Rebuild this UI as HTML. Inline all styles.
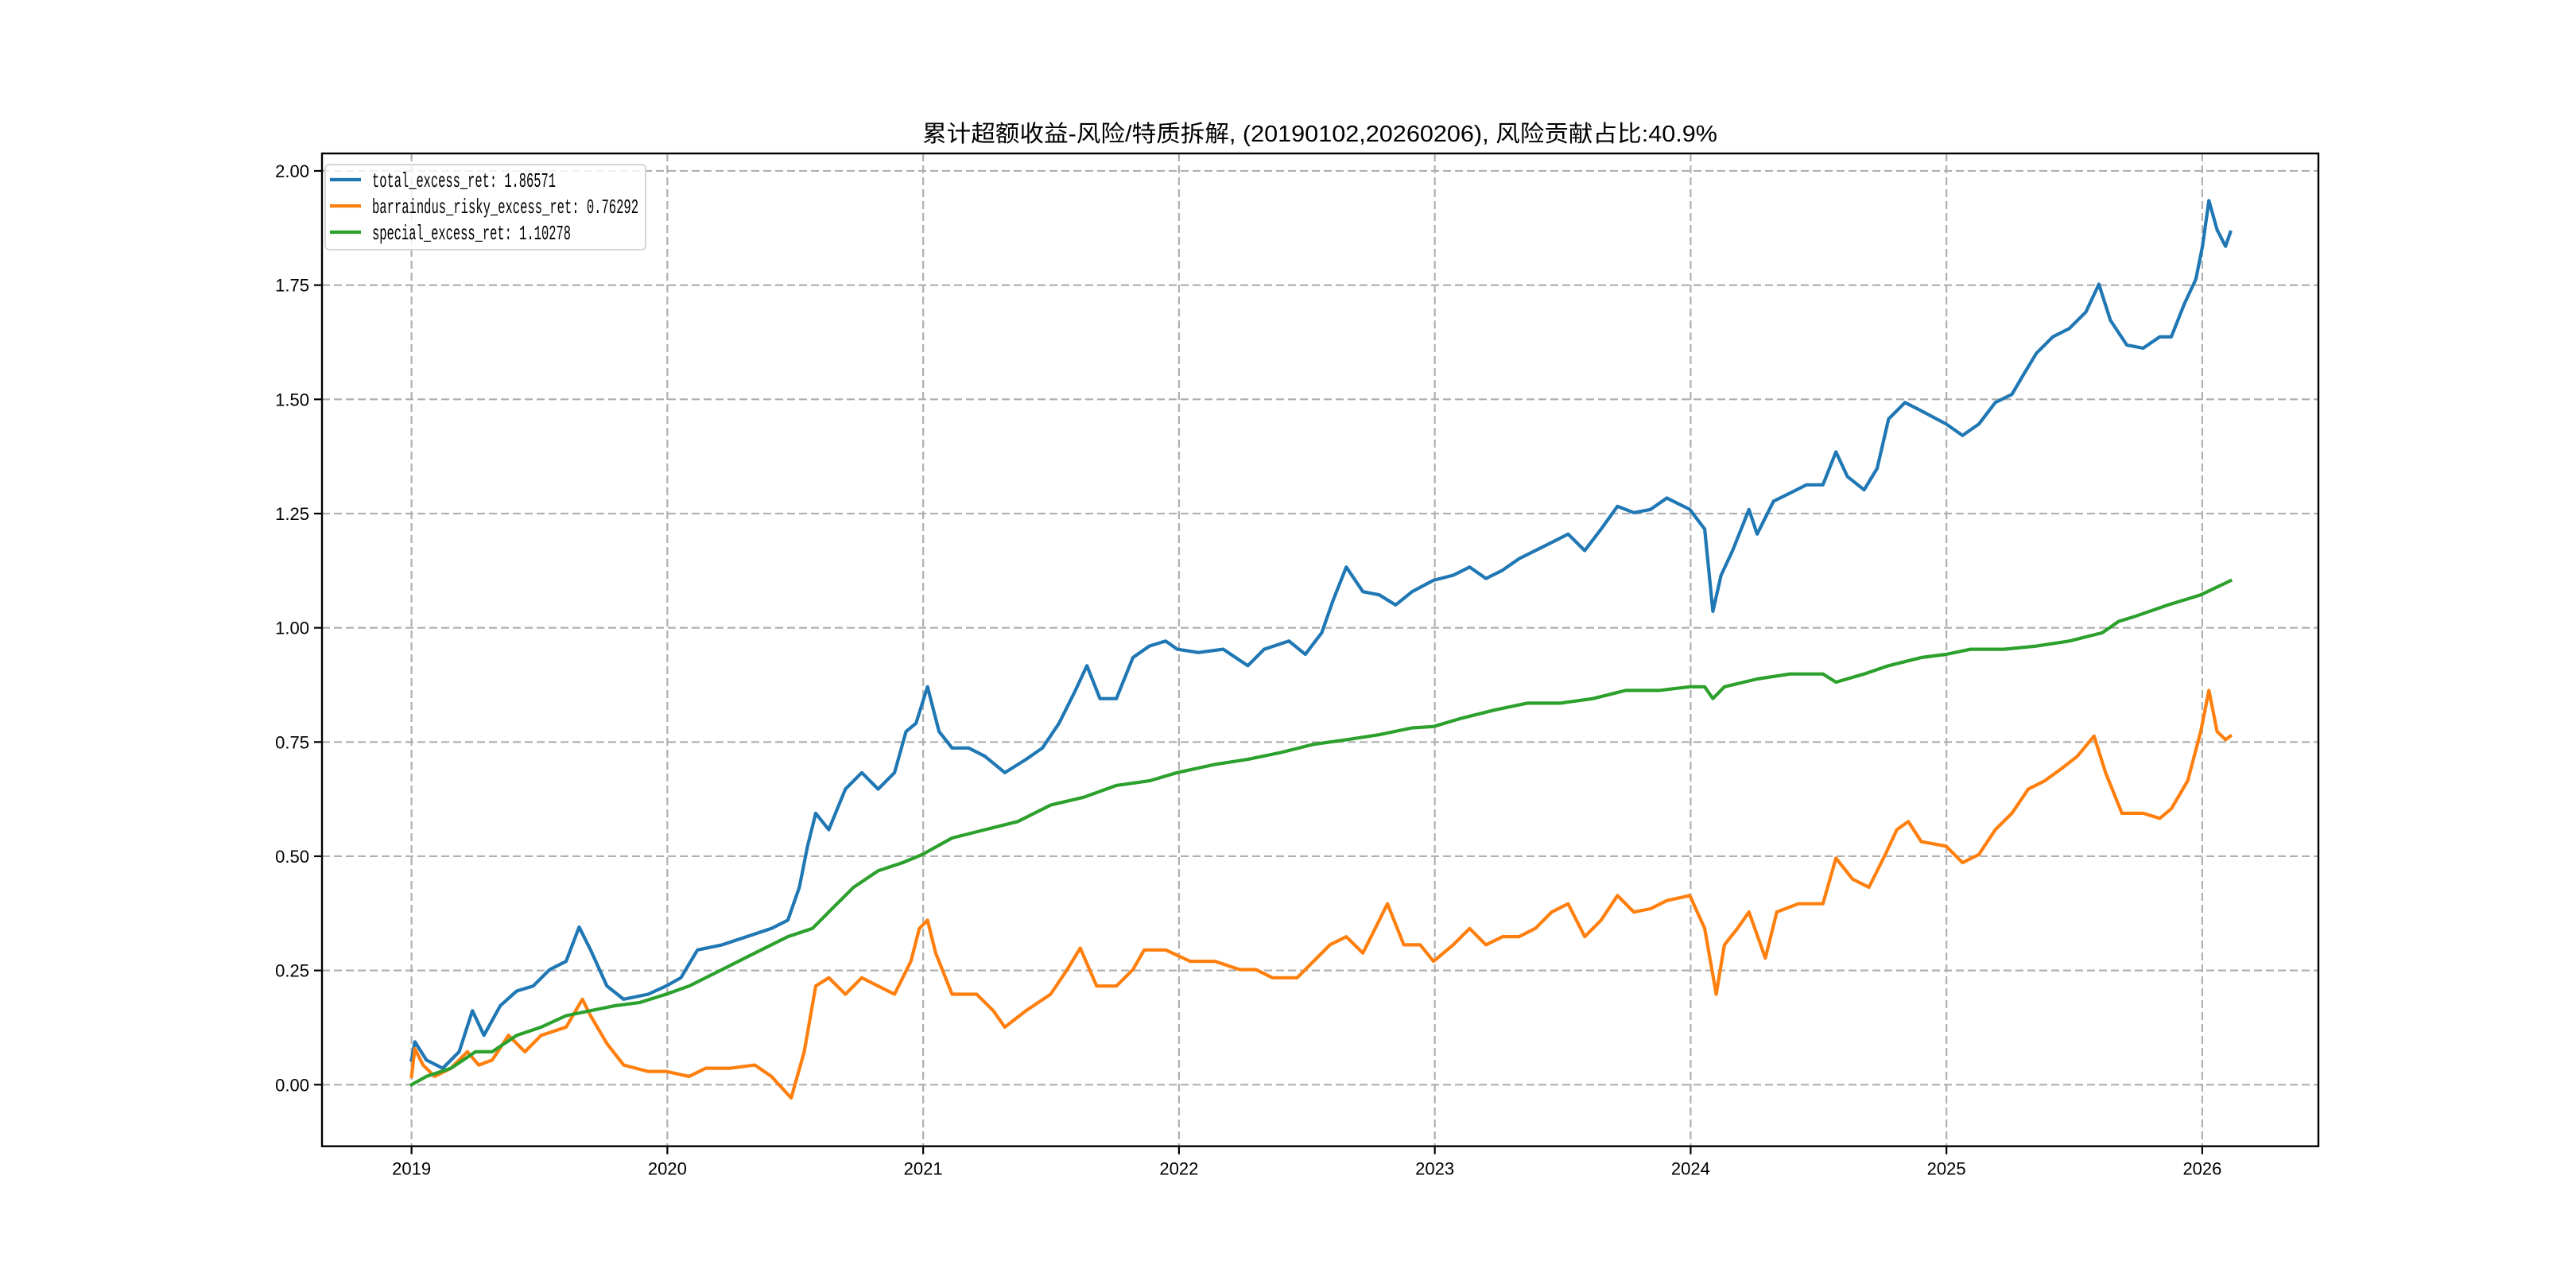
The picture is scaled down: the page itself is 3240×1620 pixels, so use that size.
<!DOCTYPE html>
<html><head><meta charset="utf-8"><style>
html,body{margin:0;padding:0;background:#fff;}
svg{display:block;}
</style></head><body>
<svg id="chart" width="3240" height="1620" viewBox="0 0 3240 1620" xmlns="http://www.w3.org/2000/svg">
<rect width="3240" height="1620" fill="#fff"/>
<text x="1660" y="178" text-anchor="middle" font-family="Liberation Sans, Noto Sans CJK SC, sans-serif" font-size="29" textLength="1000" lengthAdjust="spacingAndGlyphs">累计超额收益-风险/特质拆解, (20190102,20260206), 风险贡献占比:40.9%</text>
<g id="grid"></g>
<g id="series"></g>
<rect x="405" y="193" width="2511" height="1248.7" fill="none" stroke="#000" stroke-width="2.4"/>
<g id="ticks"></g>
<g id="legend">
<rect x="409" y="207" width="403" height="107" rx="5" fill="#fff" fill-opacity="0.8" stroke="#d6d6d6" stroke-width="2"/>
<line x1="415" y1="226" x2="454" y2="226" stroke="#1f77b4" stroke-width="4.2"/>
<text x="468" y="235" font-family="Liberation Mono, monospace" font-size="26" textLength="231" lengthAdjust="spacingAndGlyphs">total_excess_ret: 1.86571</text>
<line x1="415" y1="259" x2="454" y2="259" stroke="#ff7f0e" stroke-width="4.2"/>
<text x="468" y="268" font-family="Liberation Mono, monospace" font-size="26" textLength="335" lengthAdjust="spacingAndGlyphs">barraindus_risky_excess_ret: 0.76292</text>
<line x1="415" y1="292" x2="454" y2="292" stroke="#2ca02c" stroke-width="4.2"/>
<text x="468" y="301" font-family="Liberation Mono, monospace" font-size="26" textLength="250" lengthAdjust="spacingAndGlyphs">special_excess_ret: 1.10278</text>
</g>
</svg>
<script>
const xTickYears = [2019,2020,2021,2022,2023,2024,2025,2026];
const xTickLabels = ["2019","2020","2021","2022","2023","2024","2025","2026"];
const yTickValues = [0,0.25,0.5,0.75,1.0,1.25,1.5,1.75,2.0];
const yTickLabels = ["0.00","0.25","0.50","0.75","1.00","1.25","1.50","1.75","2.00"];

const totalDates = [0.000,0.013,0.058,0.122,0.186,0.238,0.283,0.347,0.411,0.475,0.540,0.604,0.655,0.700,0.764,0.829,0.925,0.995,1.053,1.118,1.214,1.310,1.407,1.471,1.516,1.548,1.580,1.631,1.696,1.760,1.824,1.888,1.933,1.972,2.017,2.062,2.113,2.177,2.241,2.319,2.402,2.466,2.531,2.595,2.640,2.691,2.755,2.820,2.884,2.948,2.993,3.076,3.173,3.269,3.333,3.430,3.494,3.558,3.603,3.654,3.719,3.783,3.847,3.911,3.995,4.072,4.136,4.200,4.265,4.329,4.393,4.457,4.521,4.586,4.650,4.714,4.778,4.843,4.907,4.997,5.055,5.087,5.119,5.164,5.228,5.260,5.324,5.389,5.453,5.517,5.568,5.613,5.678,5.729,5.774,5.838,5.902,5.999,6.063,6.127,6.191,6.256,6.301,6.352,6.416,6.480,6.545,6.596,6.641,6.705,6.769,6.834,6.879,6.930,6.975,7.001,7.026,7.058,7.091,7.110];
const totalValues = [0.054,0.094,0.054,0.036,0.072,0.162,0.108,0.173,0.205,0.216,0.252,0.270,0.345,0.295,0.216,0.187,0.198,0.216,0.234,0.295,0.306,0.324,0.342,0.360,0.432,0.522,0.594,0.558,0.647,0.683,0.647,0.683,0.773,0.791,0.871,0.773,0.737,0.737,0.719,0.683,0.712,0.737,0.791,0.863,0.917,0.845,0.845,0.935,0.960,0.971,0.953,0.946,0.953,0.917,0.953,0.971,0.942,0.989,1.061,1.133,1.079,1.072,1.050,1.079,1.104,1.115,1.133,1.108,1.126,1.151,1.169,1.187,1.205,1.169,1.216,1.266,1.252,1.259,1.284,1.259,1.216,1.036,1.115,1.169,1.259,1.205,1.277,1.295,1.313,1.313,1.385,1.331,1.302,1.349,1.457,1.493,1.475,1.446,1.421,1.446,1.493,1.511,1.554,1.601,1.637,1.655,1.691,1.752,1.673,1.619,1.612,1.637,1.637,1.709,1.763,1.835,1.935,1.871,1.835,1.866];

const riskyDates = [0.000,0.013,0.045,0.090,0.154,0.218,0.263,0.315,0.379,0.443,0.507,0.604,0.668,0.700,0.764,0.829,0.925,0.995,1.085,1.150,1.246,1.342,1.407,1.484,1.535,1.580,1.631,1.696,1.760,1.824,1.888,1.952,1.985,2.017,2.049,2.113,2.209,2.274,2.319,2.402,2.498,2.563,2.614,2.678,2.755,2.820,2.864,2.948,3.044,3.141,3.237,3.301,3.365,3.462,3.526,3.590,3.654,3.719,3.815,3.879,3.943,3.995,4.072,4.136,4.200,4.265,4.329,4.393,4.457,4.521,4.586,4.650,4.714,4.778,4.843,4.907,4.997,5.055,5.100,5.132,5.183,5.228,5.292,5.337,5.421,5.517,5.568,5.633,5.697,5.761,5.806,5.851,5.902,5.999,6.063,6.127,6.191,6.256,6.320,6.384,6.448,6.512,6.577,6.622,6.686,6.769,6.834,6.879,6.943,6.994,7.026,7.058,7.091,7.110];
const riskyValues = [0.018,0.079,0.043,0.018,0.036,0.072,0.043,0.054,0.108,0.072,0.108,0.126,0.187,0.151,0.090,0.043,0.029,0.029,0.018,0.036,0.036,0.043,0.018,-0.029,0.072,0.216,0.234,0.198,0.234,0.216,0.198,0.270,0.342,0.360,0.288,0.198,0.198,0.162,0.126,0.162,0.198,0.252,0.299,0.216,0.216,0.252,0.295,0.295,0.270,0.270,0.252,0.252,0.234,0.234,0.270,0.306,0.324,0.288,0.396,0.306,0.306,0.270,0.306,0.342,0.306,0.324,0.324,0.342,0.378,0.396,0.324,0.360,0.414,0.378,0.385,0.403,0.414,0.342,0.198,0.306,0.342,0.378,0.277,0.378,0.396,0.396,0.496,0.450,0.432,0.504,0.558,0.576,0.532,0.522,0.486,0.504,0.558,0.594,0.647,0.665,0.691,0.719,0.763,0.683,0.594,0.594,0.583,0.604,0.665,0.773,0.863,0.773,0.755,0.763];

const specialDates = [0.000,0.058,0.154,0.250,0.315,0.411,0.507,0.604,0.700,0.796,0.893,0.995,1.085,1.214,1.342,1.471,1.567,1.631,1.728,1.824,1.920,1.997,2.113,2.241,2.370,2.498,2.627,2.755,2.884,2.993,3.141,3.269,3.398,3.526,3.654,3.783,3.911,3.995,4.104,4.233,4.361,4.489,4.618,4.746,4.875,4.997,5.055,5.087,5.132,5.260,5.389,5.517,5.568,5.678,5.774,5.902,5.999,6.095,6.224,6.352,6.480,6.609,6.673,6.737,6.866,6.994,7.110];
const specialValues = [0.000,0.018,0.036,0.072,0.072,0.108,0.126,0.151,0.162,0.173,0.180,0.198,0.216,0.252,0.288,0.324,0.342,0.378,0.432,0.468,0.486,0.504,0.540,0.558,0.576,0.612,0.629,0.655,0.665,0.683,0.701,0.712,0.727,0.745,0.755,0.766,0.781,0.784,0.802,0.820,0.835,0.835,0.845,0.863,0.863,0.871,0.871,0.845,0.871,0.888,0.899,0.899,0.881,0.899,0.917,0.935,0.942,0.953,0.953,0.960,0.971,0.989,1.014,1.025,1.050,1.072,1.103];

const NS = 'http://www.w3.org/2000/svg';
const L = 405, R = 2916, T = 193, B = 1441.7;
const xMin = 2018.65, xMax = 2026.454, yMin = -0.1347, yMax = 2.0382;
function xs(yr){ return L + (yr - xMin) / (xMax - xMin) * (R - L); }
function ys(v){ return B - (v - yMin) / (yMax - yMin) * (B - T); }

const grid = document.getElementById('grid');
const ticks = document.getElementById('ticks');
xTickYears.forEach((yr, i) => {
  const x = xs(yr);
  const g = document.createElementNS(NS, 'line');
  g.setAttribute('x1', x); g.setAttribute('x2', x); g.setAttribute('y1', T); g.setAttribute('y2', B);
  g.setAttribute('stroke', '#b0b0b0'); g.setAttribute('stroke-width', '2.2'); g.setAttribute('stroke-dasharray', '10 5');
  
  
  grid.appendChild(g);
  const t = document.createElementNS(NS, 'line');
  t.setAttribute('x1', x); t.setAttribute('x2', x); t.setAttribute('y1', B); t.setAttribute('y2', B + 10);
  t.setAttribute('stroke', '#000'); t.setAttribute('stroke-width', '2.2');
  
  
  ticks.appendChild(t);
  const lb = document.createElementNS(NS, 'text');
  lb.setAttribute('x', x); lb.setAttribute('y', B + 36); lb.setAttribute('text-anchor', 'middle');
  lb.setAttribute('font-family', 'Liberation Sans, sans-serif'); lb.setAttribute('font-size', '22');
  
  
  lb.textContent = xTickLabels[i];
  ticks.appendChild(lb);
});
yTickValues.forEach((v, i) => {
  const y = ys(v);
  const g = document.createElementNS(NS, 'line');
  g.setAttribute('x1', L); g.setAttribute('x2', R); g.setAttribute('y1', y); g.setAttribute('y2', y);
  g.setAttribute('stroke', '#b0b0b0'); g.setAttribute('stroke-width', '2.2'); g.setAttribute('stroke-dasharray', '10 5');
  
  
  grid.appendChild(g);
  const t = document.createElementNS(NS, 'line');
  t.setAttribute('x1', L - 10); t.setAttribute('x2', L); t.setAttribute('y1', y); t.setAttribute('y2', y);
  t.setAttribute('stroke', '#000'); t.setAttribute('stroke-width', '2.2');
  
  
  ticks.appendChild(t);
  const lb = document.createElementNS(NS, 'text');
  lb.setAttribute('x', L - 16); lb.setAttribute('y', y + 8); lb.setAttribute('text-anchor', 'end');
  lb.setAttribute('font-family', 'Liberation Sans, sans-serif'); lb.setAttribute('font-size', '22');
  
  
  lb.textContent = yTickLabels[i];
  ticks.appendChild(lb);
});

const seriesG = document.getElementById('series');
function drawLine(dates, vals, color, name){
  const p = dates.map((d, i) => (i ? 'L' : 'M') + xs(2019 + d).toFixed(1) + ' ' + ys(vals[i]).toFixed(1)).join(' ');
  const path = document.createElementNS(NS, 'path');
  path.setAttribute('d', p); path.setAttribute('fill', 'none'); path.setAttribute('stroke', color);
  path.setAttribute('stroke-width', '4.2'); path.setAttribute('stroke-linejoin', 'round'); path.setAttribute('stroke-linecap', 'square');
  
  
  seriesG.appendChild(path);
}
drawLine(totalDates, totalValues, '#1f77b4', 'total-excess-ret-line');
drawLine(riskyDates, riskyValues, '#ff7f0e', 'risky-excess-ret-line');
drawLine(specialDates, specialValues, '#2ca02c', 'special-excess-ret-line');
</script>
</body></html>
